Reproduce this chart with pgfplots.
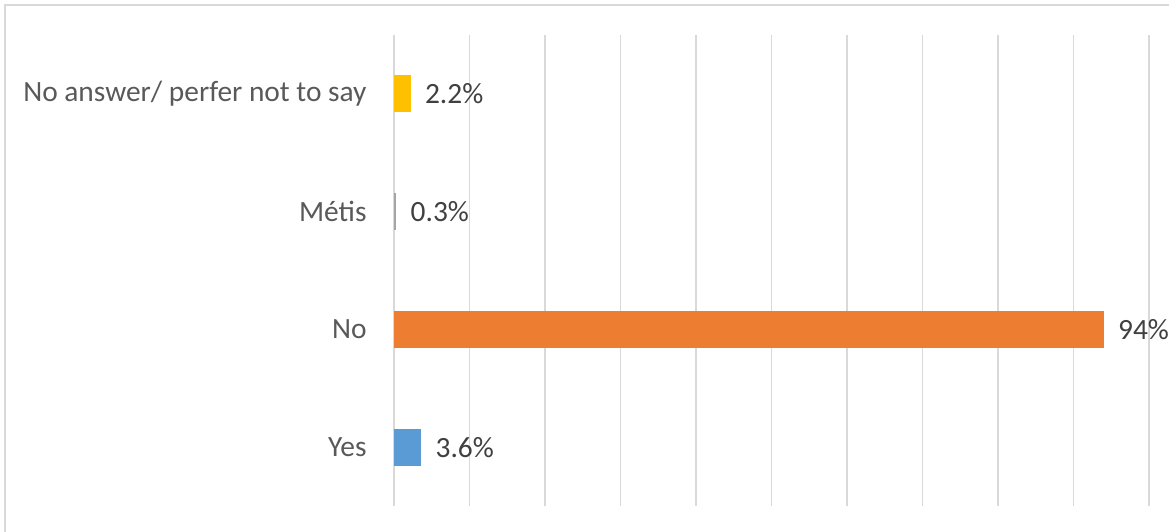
\documentclass[border=0pt]{standalone}
\usepackage{pgfplots}
\pgfplotsset{compat=1.18}
\usepackage{fontspec}
\setmainfont{Carlito}
\definecolor{cblue}{HTML}{5B9BD5}
\definecolor{corange}{HTML}{ED7D31}
\definecolor{cgray}{HTML}{A5A5A5}
\definecolor{cgold}{HTML}{FFC000}
\definecolor{gridgray}{HTML}{D9D9D9}
\definecolor{labelgray}{HTML}{595959}
\definecolor{valgray}{HTML}{404040}
\begin{document}
\begin{tikzpicture}
\useasboundingbox (-197pt,-12.5pt) rectangle (387.5pt,253pt);
\draw[gridgray, line width=0.75pt] (-194.5pt,-20pt) -- (-194.5pt,250.5pt) -- (395pt,250.5pt);
\begin{axis}[
  at={(0pt,0pt)}, anchor=south west,
  scale only axis, width=377.5pt, height=235.5pt,
  xbar, bar width=18.5pt, bar shift=0pt,
  xmin=0, xmax=100, ymin=-0.5, ymax=3.5,
  axis line style={draw=none},
  xtick={0,10,...,100}, xticklabel=\empty,
  xmajorgrids, major grid style={gridgray, line width=0.75pt},
  ytick={0,1,2,3},
  yticklabels={Yes,No,Métis,No answer/ perfer not to say},
  yticklabel style={text=labelgray, font=\fontsize{14.7}{17}\selectfont, xshift=-10.2pt},
  major tick length=0pt,
  nodes near coords, point meta=explicit symbolic,
  every node near coord/.append style={anchor=west, text=valgray, font=\fontsize{14.7}{17}\selectfont, xshift=3.7pt},
  clip=false,
]
\addplot[fill=cblue, draw=none] coordinates {(3.6,0) [3.6\%]};
\addplot[fill=corange, draw=none] coordinates {(94,1) [94\%]};
\addplot[fill=cgray, draw=none] coordinates {(0.3,2) [0.3\%]};
\addplot[fill=cgold, draw=none] coordinates {(2.2,3) [2.2\%]};
\end{axis}
\end{tikzpicture}
\end{document}
